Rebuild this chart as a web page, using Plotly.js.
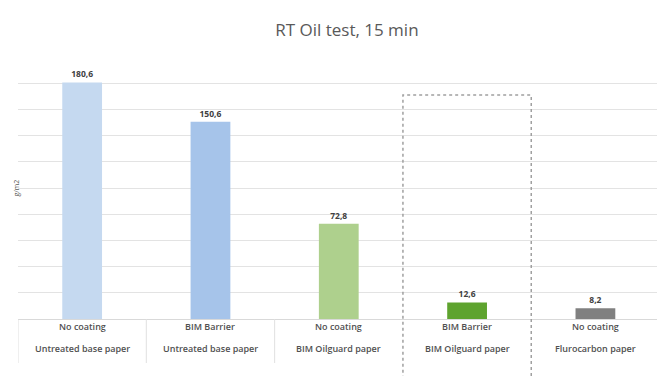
<!DOCTYPE html>
<html>
<head>
<meta charset="utf-8">
<script src="https://cdn.plot.ly/plotly-3.0.1.min.js"></script>
<style>html,body{margin:0;padding:0;background:#fff;}#chart{width:657px;height:376px;}</style>
</head>
<body>
<div id="chart"></div>
<script>
const coatings = ["No coating", "BIM Barrier", "No coating", "BIM Barrier", "No coating"];
const papers = ["Untreated base paper", "Untreated base paper", "BIM Oilguard paper", "BIM Oilguard paper", "Flurocarbon paper"];
const values = [180.6, 150.6, 72.8, 12.6, 8.2];
const colors = ["#c5d9f0", "#a6c4ea", "#aed08d", "#5ea32e", "#808080"];
const idx = [0, 1, 2, 3, 4];

const font = "Open Sans, Liberation Sans, sans-serif";

const trace = {
  type: "bar",
  x: idx,
  y: values,
  width: 0.31,
  marker: {color: colors},
  texttemplate: "%{y:.1f}",
  textposition: "outside",
  cliponaxis: false,
  textfont: {family: font, size: 8.5, color: "#404040", weight: "bold"},
  hoverinfo: "none"
};

const annotations = [];
idx.forEach(i => {
  annotations.push({xref: "x", yref: "paper", x: i, y: 0, yshift: -16, text: coatings[i], showarrow: false,
    font: {family: font, size: 9, color: "#505050", weight: 600}});
  annotations.push({xref: "x", yref: "paper", x: i, y: 0, yshift: -38, text: papers[i], showarrow: false,
    font: {family: font, size: 9, color: "#505050", weight: 600}});
});
annotations.push({xref: "paper", yref: "paper", x: 0, xshift: -9, y: 0.5, text: "g/m2", textangle: -90,
  showarrow: false, font: {family: font, size: 7, color: "#595959"}});

const shapes = [];
[-0.5, 0.5, 1.5].forEach(b => {
  shapes.push({type: "line", xref: "x", yref: "paper", x0: b, x1: b, y0: 0, y1: -0.168,
    line: {color: "#e0e0e0", width: 1}});
});
shapes.push({type: "rect", xref: "x", yref: "paper", x0: 2.5, x1: 3.5, y0: -0.3, y1: 0.855,
  line: {color: "#a0a0a0", width: 1.5, dash: "dot"}});

const layout = {
  width: 657, height: 376,
  margin: {l: 18, r: 0, t: 57, b: 57},
  paper_bgcolor: "#ffffff", plot_bgcolor: "#ffffff",
  separators: ",.",
  showlegend: false,
  title: {text: "RT Oil test, 15 min", xref: "container", x: 0.528, xanchor: "center", y: 0.92, yanchor: "middle",
    font: {family: font, size: 17, color: "#595959"}},
  xaxis: {range: [-0.5, 4.48], showticklabels: false, showgrid: false, zeroline: false, ticks: "", fixedrange: true},
  yaxis: {range: [0, 200], dtick: 20, showticklabels: false, showgrid: true, gridcolor: "#e3e3e3", gridwidth: 1,
    zeroline: true, zerolinecolor: "#d9d9d9", ticks: "", fixedrange: true},
  annotations: annotations,
  shapes: shapes
};

Plotly.newPlot("chart", [trace], layout, {displayModeBar: false, staticPlot: true});
</script>
</body>
</html>
